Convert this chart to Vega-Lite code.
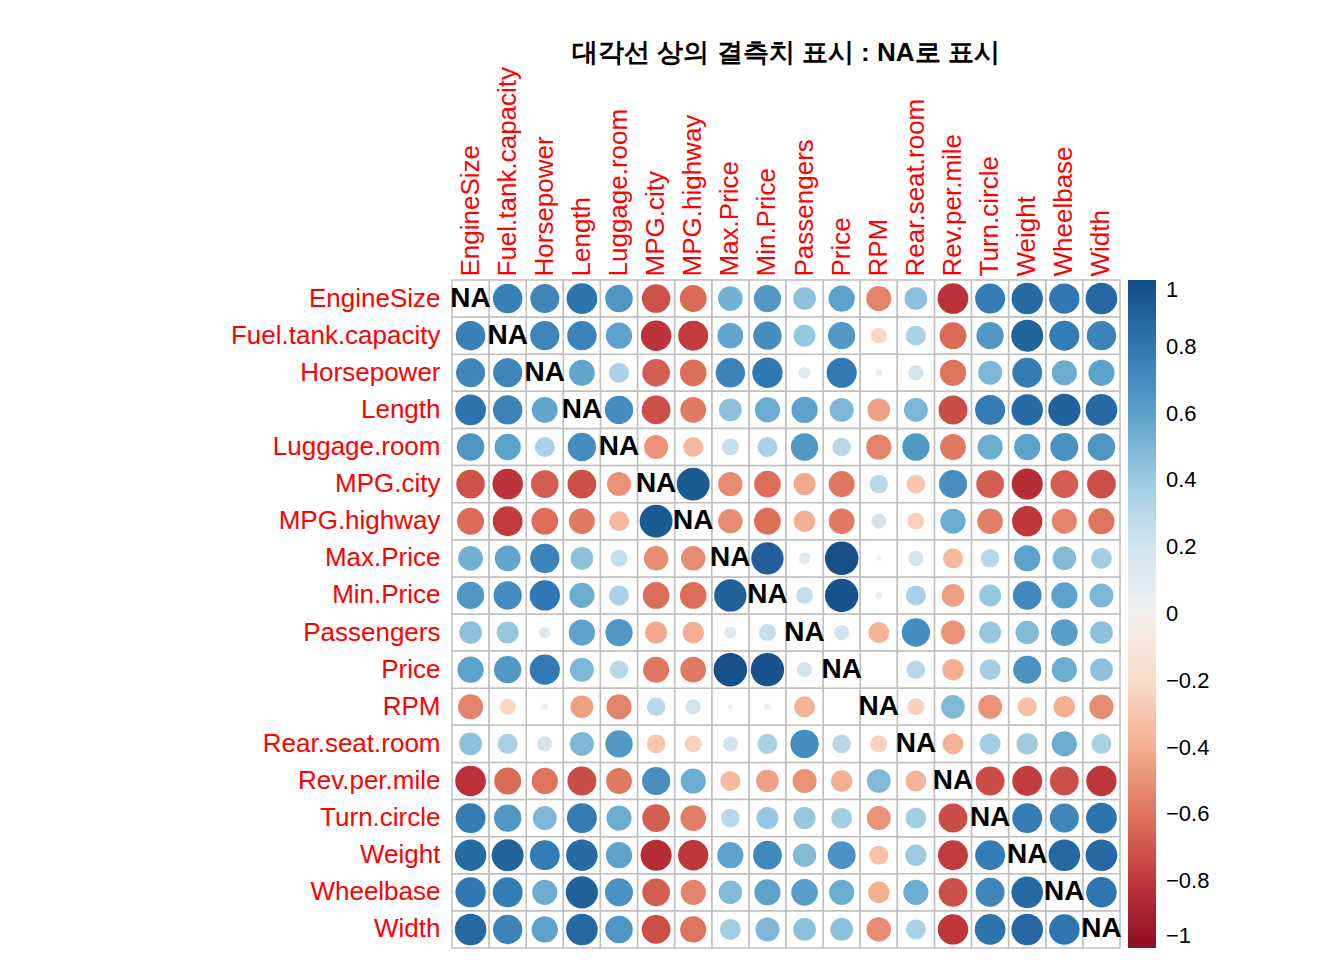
{
  "$schema": "https://vega.github.io/schema/vega-lite/v6.json",
  "width": 668,
  "height": 668,
  "padding": {"left": 230, "top": 40, "right": 5, "bottom": 5},
  "config": {"view": {"stroke": null}, "font": "Liberation Sans"},
  "title": {"text": "대각선 상의 결측치 표시 : NA로 표시", "fontSize": 26, "fontWeight": "bold", "offset": 0, "anchor": "middle"},
  "datasets": {
    "cor": [
      {"a":"Min.Price","b":"Price","r":0.97},{"a":"Min.Price","b":"Max.Price","r":0.91},{"a":"Min.Price","b":"MPG.city","r":-0.62},{"a":"Min.Price","b":"MPG.highway","r":-0.62},{"a":"Min.Price","b":"EngineSize","r":0.65},{"a":"Min.Price","b":"Horsepower","r":0.8},{"a":"Min.Price","b":"RPM","r":-0.04},{"a":"Min.Price","b":"Rev.per.mile","r":-0.45},{"a":"Min.Price","b":"Fuel.tank.capacity","r":0.7},{"a":"Min.Price","b":"Passengers","r":0.25},{"a":"Min.Price","b":"Length","r":0.55},{"a":"Min.Price","b":"Wheelbase","r":0.6},{"a":"Min.Price","b":"Width","r":0.5},{"a":"Min.Price","b":"Turn.circle","r":0.42},{"a":"Min.Price","b":"Rear.seat.room","r":0.35},{"a":"Min.Price","b":"Luggage.room","r":0.35},{"a":"Min.Price","b":"Weight","r":0.72},
      {"a":"Price","b":"Max.Price","r":0.98},{"a":"Price","b":"MPG.city","r":-0.59},{"a":"Price","b":"MPG.highway","r":-0.58},{"a":"Price","b":"EngineSize","r":0.6},{"a":"Price","b":"Horsepower","r":0.79},{"a":"Price","b":"RPM","r":0.0},{"a":"Price","b":"Rev.per.mile","r":-0.4},{"a":"Price","b":"Fuel.tank.capacity","r":0.65},{"a":"Price","b":"Passengers","r":0.2},{"a":"Price","b":"Length","r":0.5},{"a":"Price","b":"Wheelbase","r":0.55},{"a":"Price","b":"Width","r":0.45},{"a":"Price","b":"Turn.circle","r":0.38},{"a":"Price","b":"Rear.seat.room","r":0.3},{"a":"Price","b":"Luggage.room","r":0.3},{"a":"Price","b":"Weight","r":0.68},
      {"a":"Max.Price","b":"MPG.city","r":-0.52},{"a":"Max.Price","b":"MPG.highway","r":-0.52},{"a":"Max.Price","b":"EngineSize","r":0.53},{"a":"Max.Price","b":"Horsepower","r":0.75},{"a":"Max.Price","b":"RPM","r":0.02},{"a":"Max.Price","b":"Rev.per.mile","r":-0.35},{"a":"Max.Price","b":"Fuel.tank.capacity","r":0.58},{"a":"Max.Price","b":"Passengers","r":0.12},{"a":"Max.Price","b":"Length","r":0.45},{"a":"Max.Price","b":"Wheelbase","r":0.48},{"a":"Max.Price","b":"Width","r":0.38},{"a":"Max.Price","b":"Turn.circle","r":0.3},{"a":"Max.Price","b":"Rear.seat.room","r":0.2},{"a":"Max.Price","b":"Luggage.room","r":0.25},{"a":"Max.Price","b":"Weight","r":0.6},
      {"a":"MPG.city","b":"MPG.highway","r":0.94},{"a":"MPG.city","b":"EngineSize","r":-0.71},{"a":"MPG.city","b":"Horsepower","r":-0.67},{"a":"MPG.city","b":"RPM","r":0.3},{"a":"MPG.city","b":"Rev.per.mile","r":0.69},{"a":"MPG.city","b":"Fuel.tank.capacity","r":-0.81},{"a":"MPG.city","b":"Passengers","r":-0.42},{"a":"MPG.city","b":"Length","r":-0.72},{"a":"MPG.city","b":"Wheelbase","r":-0.67},{"a":"MPG.city","b":"Width","r":-0.72},{"a":"MPG.city","b":"Turn.circle","r":-0.67},{"a":"MPG.city","b":"Rear.seat.room","r":-0.3},{"a":"MPG.city","b":"Luggage.room","r":-0.5},{"a":"MPG.city","b":"Weight","r":-0.84},
      {"a":"MPG.highway","b":"EngineSize","r":-0.63},{"a":"MPG.highway","b":"Horsepower","r":-0.62},{"a":"MPG.highway","b":"RPM","r":0.2},{"a":"MPG.highway","b":"Rev.per.mile","r":0.55},{"a":"MPG.highway","b":"Fuel.tank.capacity","r":-0.78},{"a":"MPG.highway","b":"Passengers","r":-0.4},{"a":"MPG.highway","b":"Length","r":-0.58},{"a":"MPG.highway","b":"Wheelbase","r":-0.55},{"a":"MPG.highway","b":"Width","r":-0.6},{"a":"MPG.highway","b":"Turn.circle","r":-0.57},{"a":"MPG.highway","b":"Rear.seat.room","r":-0.25},{"a":"MPG.highway","b":"Luggage.room","r":-0.35},{"a":"MPG.highway","b":"Weight","r":-0.8},
      {"a":"EngineSize","b":"Horsepower","r":0.73},{"a":"EngineSize","b":"RPM","r":-0.55},{"a":"EngineSize","b":"Rev.per.mile","r":-0.82},{"a":"EngineSize","b":"Fuel.tank.capacity","r":0.76},{"a":"EngineSize","b":"Passengers","r":0.45},{"a":"EngineSize","b":"Length","r":0.82},{"a":"EngineSize","b":"Wheelbase","r":0.8},{"a":"EngineSize","b":"Width","r":0.87},{"a":"EngineSize","b":"Turn.circle","r":0.78},{"a":"EngineSize","b":"Rear.seat.room","r":0.45},{"a":"EngineSize","b":"Luggage.room","r":0.66},{"a":"EngineSize","b":"Weight","r":0.86},
      {"a":"Horsepower","b":"RPM","r":0.04},{"a":"Horsepower","b":"Rev.per.mile","r":-0.6},{"a":"Horsepower","b":"Fuel.tank.capacity","r":0.74},{"a":"Horsepower","b":"Passengers","r":0.12},{"a":"Horsepower","b":"Length","r":0.58},{"a":"Horsepower","b":"Wheelbase","r":0.55},{"a":"Horsepower","b":"Width","r":0.6},{"a":"Horsepower","b":"Turn.circle","r":0.5},{"a":"Horsepower","b":"Rear.seat.room","r":0.2},{"a":"Horsepower","b":"Luggage.room","r":0.35},{"a":"Horsepower","b":"Weight","r":0.78},
      {"a":"RPM","b":"Rev.per.mile","r":0.49},{"a":"RPM","b":"Fuel.tank.capacity","r":-0.22},{"a":"RPM","b":"Passengers","r":-0.38},{"a":"RPM","b":"Length","r":-0.45},{"a":"RPM","b":"Wheelbase","r":-0.4},{"a":"RPM","b":"Width","r":-0.52},{"a":"RPM","b":"Turn.circle","r":-0.5},{"a":"RPM","b":"Rear.seat.room","r":-0.25},{"a":"RPM","b":"Luggage.room","r":-0.55},{"a":"RPM","b":"Weight","r":-0.32},
      {"a":"Rev.per.mile","b":"Fuel.tank.capacity","r":-0.63},{"a":"Rev.per.mile","b":"Passengers","r":-0.5},{"a":"Rev.per.mile","b":"Length","r":-0.73},{"a":"Rev.per.mile","b":"Wheelbase","r":-0.72},{"a":"Rev.per.mile","b":"Width","r":-0.8},{"a":"Rev.per.mile","b":"Turn.circle","r":-0.73},{"a":"Rev.per.mile","b":"Rear.seat.room","r":-0.38},{"a":"Rev.per.mile","b":"Luggage.room","r":-0.58},{"a":"Rev.per.mile","b":"Weight","r":-0.78},
      {"a":"Fuel.tank.capacity","b":"Passengers","r":0.42},{"a":"Fuel.tank.capacity","b":"Length","r":0.75},{"a":"Fuel.tank.capacity","b":"Wheelbase","r":0.78},{"a":"Fuel.tank.capacity","b":"Width","r":0.75},{"a":"Fuel.tank.capacity","b":"Turn.circle","r":0.65},{"a":"Fuel.tank.capacity","b":"Rear.seat.room","r":0.35},{"a":"Fuel.tank.capacity","b":"Luggage.room","r":0.6},{"a":"Fuel.tank.capacity","b":"Weight","r":0.89},
      {"a":"Passengers","b":"Length","r":0.6},{"a":"Passengers","b":"Wheelbase","r":0.62},{"a":"Passengers","b":"Width","r":0.45},{"a":"Passengers","b":"Turn.circle","r":0.42},{"a":"Passengers","b":"Rear.seat.room","r":0.7},{"a":"Passengers","b":"Luggage.room","r":0.65},{"a":"Passengers","b":"Weight","r":0.48},
      {"a":"Length","b":"Wheelbase","r":0.9},{"a":"Length","b":"Width","r":0.87},{"a":"Length","b":"Turn.circle","r":0.78},{"a":"Length","b":"Rear.seat.room","r":0.5},{"a":"Length","b":"Luggage.room","r":0.7},{"a":"Length","b":"Weight","r":0.86},
      {"a":"Wheelbase","b":"Width","r":0.81},{"a":"Wheelbase","b":"Turn.circle","r":0.73},{"a":"Wheelbase","b":"Rear.seat.room","r":0.55},{"a":"Wheelbase","b":"Luggage.room","r":0.68},{"a":"Wheelbase","b":"Weight","r":0.87},
      {"a":"Width","b":"Turn.circle","r":0.82},{"a":"Width","b":"Rear.seat.room","r":0.35},{"a":"Width","b":"Luggage.room","r":0.66},{"a":"Width","b":"Weight","r":0.87},
      {"a":"Turn.circle","b":"Rear.seat.room","r":0.38},{"a":"Turn.circle","b":"Luggage.room","r":0.55},{"a":"Turn.circle","b":"Weight","r":0.78},
      {"a":"Rear.seat.room","b":"Luggage.room","r":0.65},{"a":"Rear.seat.room","b":"Weight","r":0.4},
      {"a":"Luggage.room","b":"Weight","r":0.6}
    ],
    "diag": [
      {"a":"Min.Price","b":"Min.Price","t":"NA"},{"a":"Price","b":"Price","t":"NA"},{"a":"Max.Price","b":"Max.Price","t":"NA"},{"a":"MPG.city","b":"MPG.city","t":"NA"},{"a":"MPG.highway","b":"MPG.highway","t":"NA"},{"a":"EngineSize","b":"EngineSize","t":"NA"},{"a":"Horsepower","b":"Horsepower","t":"NA"},{"a":"RPM","b":"RPM","t":"NA"},{"a":"Rev.per.mile","b":"Rev.per.mile","t":"NA"},{"a":"Fuel.tank.capacity","b":"Fuel.tank.capacity","t":"NA"},{"a":"Passengers","b":"Passengers","t":"NA"},{"a":"Length","b":"Length","t":"NA"},{"a":"Wheelbase","b":"Wheelbase","t":"NA"},{"a":"Width","b":"Width","t":"NA"},{"a":"Turn.circle","b":"Turn.circle","t":"NA"},{"a":"Rear.seat.room","b":"Rear.seat.room","t":"NA"},{"a":"Luggage.room","b":"Luggage.room","t":"NA"},{"a":"Weight","b":"Weight","t":"NA"}
    ]
  },
  "data": {"name": "cor"},
  "transform": [{"calculate": "abs(datum.r)", "as": "absr"}],
  "encoding": {
    "x": {"field": "a", "type": "nominal", "sort": ["Min.Price","Price","Max.Price","MPG.city","MPG.highway","EngineSize","Horsepower","RPM","Rev.per.mile","Fuel.tank.capacity","Passengers","Length","Wheelbase","Width","Turn.circle","Rear.seat.room","Luggage.room","Weight"],
      "scale": {"paddingInner": 0, "paddingOuter": 0},
      "axis": {"orient": "top", "title": null, "labelAngle": -90, "labelColor": "red", "labelFontSize": 26, "labelFont": "Liberation Sans", "labelLimit": 0, "ticks": false, "domain": false, "labelPadding": 4}},
    "y": {"field": "b", "type": "nominal", "sort": ["Min.Price","Price","Max.Price","MPG.city","MPG.highway","EngineSize","Horsepower","RPM","Rev.per.mile","Fuel.tank.capacity","Passengers","Length","Wheelbase","Width","Turn.circle","Rear.seat.room","Luggage.room","Weight"],
      "scale": {"paddingInner": 0, "paddingOuter": 0},
      "axis": {"title": null, "labelColor": "red", "labelFontSize": 26, "labelFont": "Liberation Sans", "labelLimit": 0, "ticks": false, "domain": false, "labelPadding": 12}}
  },
  "layer": [
    {"mark": {"type": "rect", "fill": "white", "stroke": "#c0c0c0", "strokeWidth": 1.5}},
    {"mark": {"type": "rect", "fill": "white", "stroke": "#c0c0c0", "strokeWidth": 1.5},
      "encoding": {
        "x": {"field": "b", "type": "nominal", "sort": ["Min.Price","Price","Max.Price","MPG.city","MPG.highway","EngineSize","Horsepower","RPM","Rev.per.mile","Fuel.tank.capacity","Passengers","Length","Wheelbase","Width","Turn.circle","Rear.seat.room","Luggage.room","Weight"]},
        "y": {"field": "a", "type": "nominal", "sort": ["Min.Price","Price","Max.Price","MPG.city","MPG.highway","EngineSize","Horsepower","RPM","Rev.per.mile","Fuel.tank.capacity","Passengers","Length","Wheelbase","Width","Turn.circle","Rear.seat.room","Luggage.room","Weight"]}}},
    {"data": {"name": "diag"}, "mark": {"type": "rect", "fill": "white", "stroke": "#c0c0c0", "strokeWidth": 1.5}},
    {"mark": {"type": "circle", "opacity": 1},
      "encoding": {
        "size": {"field": "absr", "type": "quantitative", "scale": {"domain": [0, 1], "range": [0, 1150]}, "legend": null},
        "color": {"field": "r", "type": "quantitative", "scale": {"scheme": "redblue", "domain": [-1, 1]},
          "legend": {"title": null, "gradientLength": 668, "gradientThickness": 28, "labelFontSize": 22, "labelFont": "Liberation Sans", "values": [-1,-0.8,-0.6,-0.4,-0.2,0,0.2,0.4,0.6,0.8,1], "format": ".1~f", "offset": 8, "gradientStrokeColor": "black", "labelOffset": 10}}
      }},
    {"mark": {"type": "circle", "opacity": 1},
      "encoding": {
        "x": {"field": "b", "type": "nominal", "sort": ["Min.Price","Price","Max.Price","MPG.city","MPG.highway","EngineSize","Horsepower","RPM","Rev.per.mile","Fuel.tank.capacity","Passengers","Length","Wheelbase","Width","Turn.circle","Rear.seat.room","Luggage.room","Weight"]},
        "y": {"field": "a", "type": "nominal", "sort": ["Min.Price","Price","Max.Price","MPG.city","MPG.highway","EngineSize","Horsepower","RPM","Rev.per.mile","Fuel.tank.capacity","Passengers","Length","Wheelbase","Width","Turn.circle","Rear.seat.room","Luggage.room","Weight"]},
        "size": {"field": "absr", "type": "quantitative", "scale": {"domain": [0, 1], "range": [0, 1150]}, "legend": null},
        "color": {"field": "r", "type": "quantitative"}
      }},
    {"data": {"name": "diag"}, "mark": {"type": "text", "fontSize": 28, "fontWeight": "bold", "font": "Liberation Sans", "color": "black"},
      "encoding": {"text": {"field": "t"}}}
  ]
}
